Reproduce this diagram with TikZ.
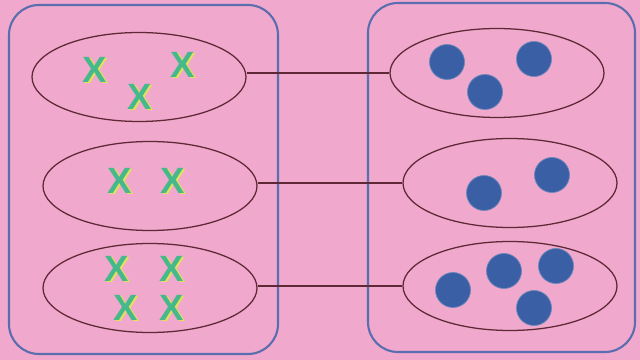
\documentclass[tikz,border=0pt]{standalone}
\usepackage{fontspec}
\setmainfont{Liberation Sans}
\usetikzlibrary{shapes.geometric}
\definecolor{pinkbg}{RGB}{240,168,204}
\definecolor{boxline}{RGB}{90,110,175}
\definecolor{ellline}{RGB}{95,40,55}
\definecolor{dotblue}{RGB}{58,95,165}
\definecolor{xgreen}{RGB}{70,185,140}
\definecolor{xshadow}{RGB}{225,225,90}
\begin{document}
\begin{tikzpicture}[x=0.05cm,y=-0.05cm,
  group/.style={draw=boxline,line width=3pt,rounded corners=1.5cm},
  set/.style={draw=ellline,line width=1.8pt,ellipse,minimum width=10.7cm,minimum height=4.45cm,inner sep=0pt},
  link/.style={draw=ellline,line width=2.4pt},
  dot/.style={circle,fill=dotblue,draw=dotblue!75!white,line width=1pt,minimum size=1.75cm,inner sep=0pt},
  xmark/.style={text=xgreen,font=\fontsize{52}{52}\selectfont\bfseries,inner sep=0pt},
  xsh/.style={text=xshadow,font=\fontsize{52}{52}\selectfont\bfseries,inner sep=0pt}]
\fill[pinkbg] (0,0) rectangle (640,360);
\useasboundingbox (0,0) rectangle (640,360);
\draw[group] (9,5) rectangle (278,354);
\draw[group] (368,3) rectangle (635,352);
% left sets
\node[set] (L1) at (139,77) {};
\node[set] (L2) at (150,186) {};
\node[set] (L3) at (150,288) {};
% right sets
\node[set] (R1) at (497,73) {};
\node[set] (R2) at (510,183) {};
\node[set] (R3) at (510,286) {};
% links
\draw[link] (L1.east |- R1.west) -- (R1.west);
\draw[link] (L2.east |- R2.west) -- (R2.west);
\draw[link] (L3.east |- R3.west) -- (R3.west);
% crosses
\foreach \n/\a/\b in {x1/95/70,x2/140/97,x3/183/65,x4/120/181,x5/173/181,x6/117/269,x7/172/269,x8/126/308,x9/172/308}{
  \node[xsh] (\n s) at (\a+1.2,\b+1) {X};
  \node[xmark] (\n) at (\a,\b) {X};
}
% dots
\node[dot] (d1) at (447,62) {};
\node[dot] (d2) at (485,92) {};
\node[dot] (d3) at (534,59) {};
\node[dot] (d4) at (484,193) {};
\node[dot] (d5) at (552,175) {};
\node[dot] (d6) at (453,290) {};
\node[dot] (d7) at (504,271) {};
\node[dot] (d8) at (556,266) {};
\node[dot] (d9) at (534,308) {};
\end{tikzpicture}
\end{document}
